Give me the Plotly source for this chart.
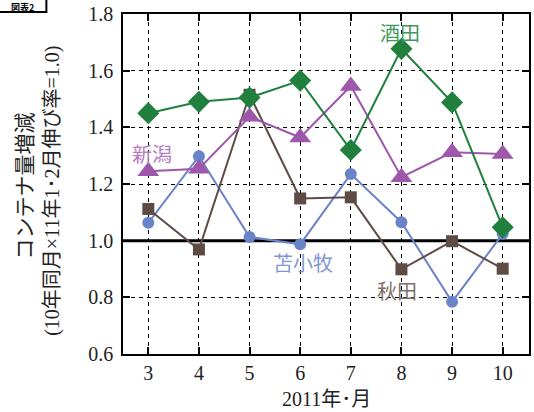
import plotly.graph_objects as go

# Months of 2011
months = [3, 4, 5, 6, 7, 8, 9, 10]

# Container volume index (same month 2010 x Jan-Feb 2011 growth = 1.0)
sakata = [1.45, 1.49, 1.505, 1.565, 1.32, 1.677, 1.488, 1.047]
niigata = [1.245, 1.254, 1.437, 1.364, 1.546, 1.224, 1.312, 1.306]
tomakomai = [1.063, 1.298, 1.013, 0.987, 1.235, 1.065, 0.784, 1.024]
akita = [1.112, 0.969, 1.515, 1.149, 1.153, 0.899, 0.998, 0.901]

y_ticks = [0.6, 0.8, 1.0, 1.2, 1.4, 1.6, 1.8]

SERIF = "Liberation Serif, Noto Sans CJK JP, serif"
CJK = "Noto Sans CJK JP, sans-serif"

GREEN = "#21803d"
PURPLE = "#9e58ab"
BLUE = "#6b84c9"
BROWN = "#5e4b45"

fig = go.Figure()

fig.add_trace(go.Scatter(x=months, y=tomakomai, mode="lines+markers", name="苫小牧",
                         line=dict(color=BLUE, width=2),
                         marker=dict(symbol="circle", size=12, color=BLUE)))
fig.add_trace(go.Scatter(x=months, y=akita, mode="lines+markers", name="秋田",
                         line=dict(color=BROWN, width=2),
                         marker=dict(symbol="square", size=12, color=BROWN)))
fig.add_trace(go.Scatter(x=months, y=niigata, mode="lines+markers", name="新潟",
                         line=dict(color=PURPLE, width=2),
                         marker=dict(symbol="triangle-up", size=19, color=PURPLE)))
fig.add_trace(go.Scatter(x=months, y=sakata, mode="lines+markers", name="酒田",
                         line=dict(color=GREEN, width=2),
                         marker=dict(symbol="diamond", size=17, color=GREEN)))

# Reference line at 1.0
fig.add_shape(type="line", xref="paper", x0=0, x1=1, yref="y", y0=1.0, y1=1.0,
              line=dict(color="black", width=3), layer="between")

# Series labels
labels = [
    ("酒田", 7.965, 1.733, "#3f9a5a"),
    ("新潟", 3.07, 1.309, "#b57cbf"),
    ("苫小牧", 6.058, 0.922, "#7f97d3"),
    ("秋田", 7.906, 0.825, "#7d6e6a"),
]
for txt, xv, yv, col in labels:
    fig.add_annotation(x=xv, y=yv, text=txt, showarrow=False,
                       font=dict(family=CJK, size=20, color=col))

# Axis titles
fig.add_annotation(xref="paper", yref="paper", x=0.5, y=-0.132, yanchor="middle",
                   text="2011年･月", showarrow=False,
                   font=dict(family=SERIF, size=20, color="#222"))
fig.add_annotation(xref="paper", yref="paper", x=-0.245, xanchor="center",
                   y=0.494, yanchor="middle", text="コンテナ量増減", textangle=-90,
                   showarrow=False, font=dict(family=CJK, size=21, color="#222"))
fig.add_annotation(xref="paper", yref="paper", x=-0.174, xanchor="center",
                   y=0.481, yanchor="middle", text="(10年同月×11年1･2月伸び率=1.0)",
                   textangle=-90, showarrow=False,
                   font=dict(family=SERIF, size=20, color="#222"))

# Figure tag box in the corner
fig.add_shape(type="rect", xref="paper", yref="paper",
              x0=-125 / 408, x1=-77 / 408, y0=1 + 2 / 341, y1=1 + 20 / 341,
              line=dict(color="black", width=2), fillcolor="white")
fig.add_annotation(xref="paper", yref="paper", x=-101 / 408, xanchor="center",
                   y=1 + 7 / 341, yanchor="middle", text="<b>図表2</b>",
                   showarrow=False, font=dict(family=CJK, size=9, color="black"))

axis_common = dict(
    showline=True, linecolor="black", linewidth=1.5, mirror="ticks",
    ticks="inside", ticklen=7, tickwidth=1.5, tickcolor="black",
    showgrid=True, gridcolor="black", gridwidth=1, griddash="4px,4px",
    zeroline=False,
    tickfont=dict(family=SERIF, size=20, color="#222"),
)

fig.update_xaxes(range=[2.5, 10.52], tickvals=months, **axis_common)
fig.update_yaxes(range=[0.6, 1.8], tickvals=y_ticks, tickformat=".1f",
                 ticklabelstandoff=4, **axis_common)

fig.update_layout(
    width=534, height=412,
    margin=dict(l=123, r=3, t=13, b=58),
    plot_bgcolor="white", paper_bgcolor="white",
    showlegend=False,
)

fig.write_html("out.html")
